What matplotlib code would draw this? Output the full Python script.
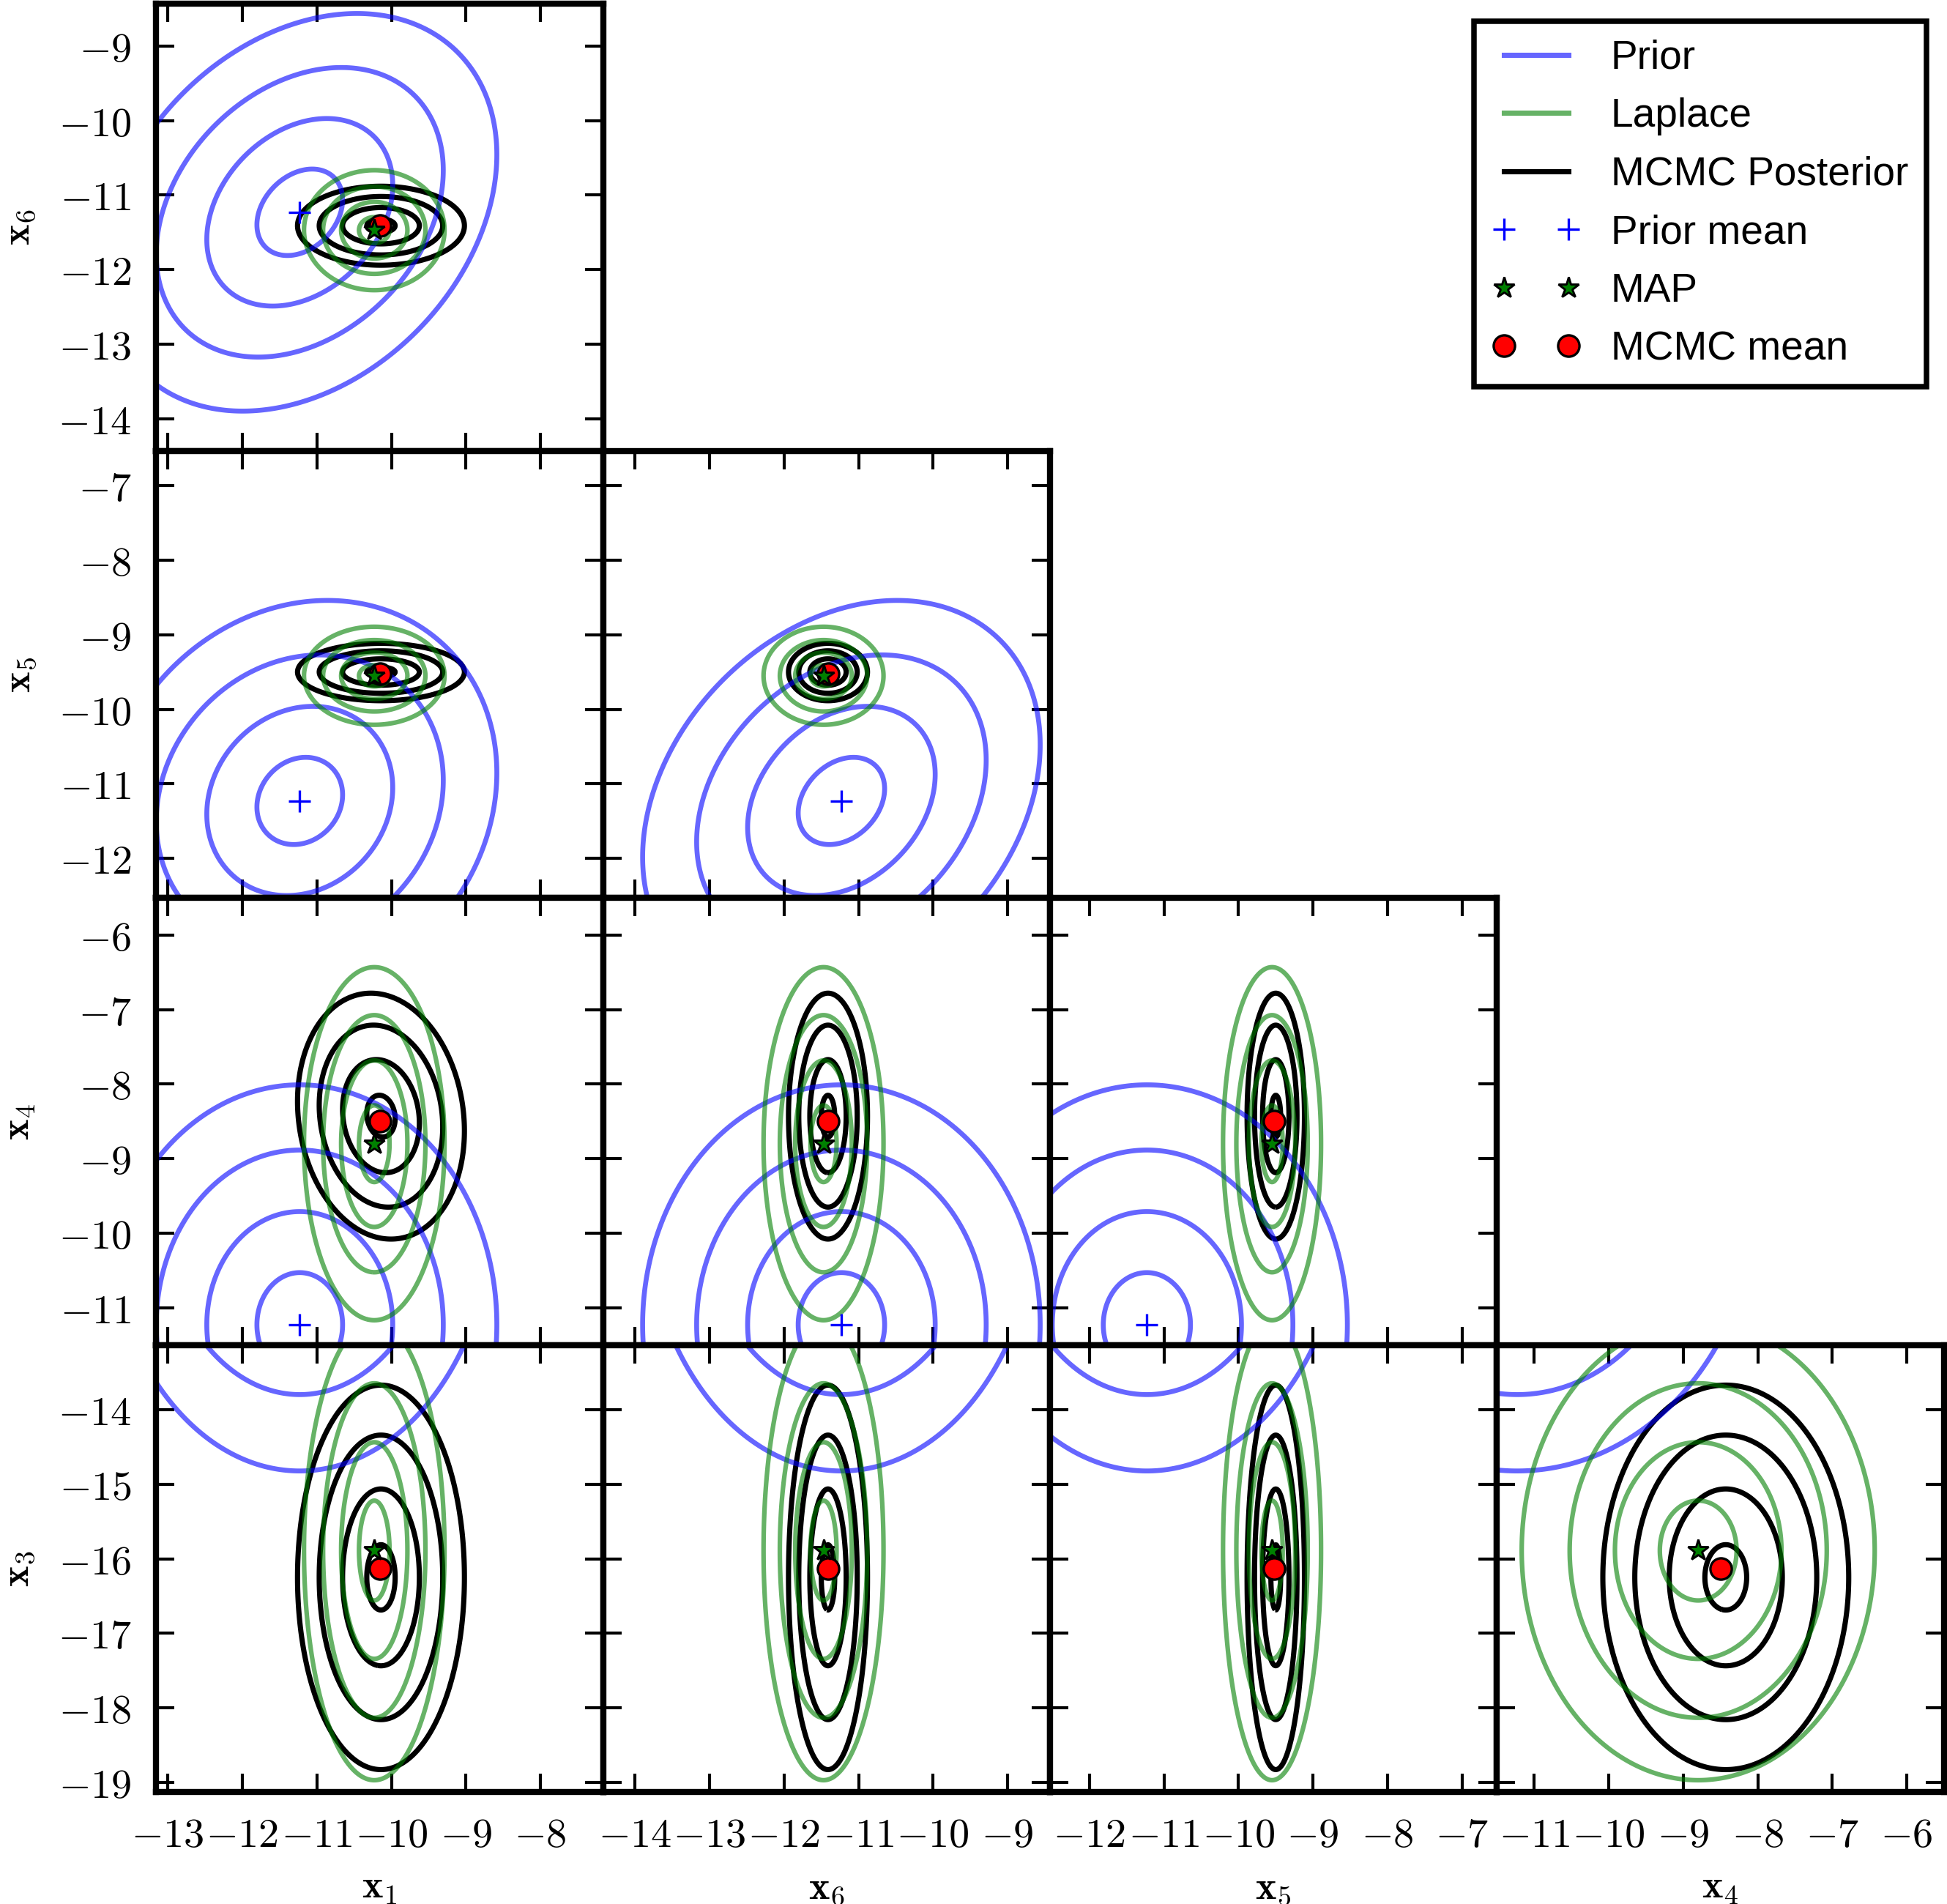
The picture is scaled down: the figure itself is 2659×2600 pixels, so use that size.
import numpy as np
import matplotlib
matplotlib.use('Agg')
import matplotlib.pyplot as plt
from matplotlib.lines import Line2D
from matplotlib.ticker import MultipleLocator, FuncFormatter

plt.rcParams['mathtext.fontset'] = 'cm'

# variable order used everywhere below: x1, x6, x5, x4, x3
var_labels = [r'$\mathbf{x}_1$', r'$\mathbf{x}_6$', r'$\mathbf{x}_5$',
              r'$\mathbf{x}_4$', r'$\mathbf{x}_3$']
axis_lo = [-13.16, -14.43, -12.53, -11.50, -19.13]
axis_hi = [-7.16, -8.43, -6.53, -5.50, -13.13]

# prior (blue)
prior_mean = [-11.23, -11.23, -11.23, -11.23, -11.05]
prior_std = [0.575, 0.58, 0.585, 0.70, 0.82]
prior_corr = {(0, 1): 0.29, (0, 2): 0.14, (1, 2): 0.28}

# laplace approximation (green), centred on the MAP
map_point = [-10.23, -11.47, -9.55, -8.80, -15.89]
laplace_std = [0.205, 0.175, 0.143, 0.515, 0.67]
laplace_corr = {}

# mcmc posterior (black)
mcmc_mean = [-10.15, -11.41, -9.52, -8.50, -16.13]
mcmc_centre = [-10.14, -11.41, -9.50, -8.43, -16.25]
mcmc_spread = [1.12, 0.53, 0.385, 1.65, 2.58]
mcmc_corr = {(0, 3): -0.12}

# contour levels (mahalanobis radii)
gauss_levels = [1.0, 2.17, 3.35, 4.6]
mcmc_levels = [0.17, 0.46, 0.74, 1.0]


def cov_from(std, corr):
    c = np.eye(len(std))
    for (a, b), r in corr.items():
        c[a, b] = c[b, a] = r
    s = np.array(std)
    return c * np.outer(s, s)


def draw_contours(ax, mean, cov, i, j, levels, **kw):
    xs = np.linspace(axis_lo[j], axis_hi[j], 400)
    ys = np.linspace(axis_lo[i], axis_hi[i], 400)
    X, Y = np.meshgrid(xs, ys)
    inv = np.linalg.inv(cov[np.ix_([j, i], [j, i])])
    dx = X - mean[j]
    dy = Y - mean[i]
    d = np.sqrt(inv[0, 0]*dx*dx + 2*inv[0, 1]*dx*dy + inv[1, 1]*dy*dy)
    ax.contour(X, Y, d, levels=levels, **kw)


prior_cov = cov_from(prior_std, prior_corr)
laplace_cov = cov_from(laplace_std, laplace_corr)
mcmc_cov = cov_from(mcmc_spread, mcmc_corr)

fig = plt.figure(figsize=(2659/300, 2600/300), dpi=300)
W = 610.5
fmt = FuncFormatter(lambda v, p: r'$%d$' % round(v))

for r in range(4):
    for c in range(r + 1):
        i = r + 1   # y variable
        j = c       # x variable
        ax = fig.add_axes([(213 + c*W)/2659, (153 + (3 - r)*W)/2600, W/2659, W/2600])

        draw_contours(ax, mcmc_centre, mcmc_cov, i, j, mcmc_levels,
                      colors='k', linewidths=1.7)
        draw_contours(ax, prior_mean, prior_cov, i, j, gauss_levels,
                      colors='b', alpha=0.6, linewidths=1.6)
        draw_contours(ax, map_point, laplace_cov, i, j, gauss_levels,
                      colors='g', alpha=0.6, linewidths=1.5)

        ax.plot(prior_mean[j], prior_mean[i], '+', color='b', ms=7, mew=0.8)
        ax.plot(mcmc_mean[j], mcmc_mean[i], 'o', mfc='r', mec='k', ms=7, mew=0.8)
        ax.plot(map_point[j], map_point[i], '*', mfc='g', mec='k', ms=7, mew=0.7)

        ax.set_xlim(axis_lo[j], axis_hi[j])
        ax.set_ylim(axis_lo[i], axis_hi[i])
        ax.xaxis.set_major_locator(MultipleLocator(1))
        ax.yaxis.set_major_locator(MultipleLocator(1))
        ax.xaxis.set_major_formatter(fmt)
        ax.yaxis.set_major_formatter(fmt)
        ax.tick_params(direction='in', length=6, width=1, top=True, right=True,
                       labelsize=13.5, pad=8,
                       labelleft=(c == 0), labelbottom=(r == 3))
        for sp in ax.spines.values():
            sp.set_linewidth(2.0)
        if c == 0:
            ax.set_ylabel(var_labels[i], fontsize=13, labelpad=7)
        if r == 3:
            ax.set_xlabel(var_labels[j], fontsize=13, labelpad=4)

handles = [Line2D([], [], color='b', alpha=0.6, lw=1.7),
           Line2D([], [], color='g', alpha=0.6, lw=1.7),
           Line2D([], [], color='k', lw=1.7),
           Line2D([], [], ls='none', marker='+', color='b', ms=7, mew=0.8),
           Line2D([], [], ls='none', marker='*', mfc='g', mec='k', ms=7, mew=0.7),
           Line2D([], [], ls='none', marker='o', mfc='r', mec='k', ms=7, mew=0.8)]
labels = ['Prior', 'Laplace', 'MCMC Posterior', 'Prior mean', 'MAP', 'MCMC mean']
leg = fig.legend(handles, labels, loc='upper right',
                 bbox_to_anchor=(2631/2659, 1 - 29/2600), borderaxespad=0,
                 numpoints=2, prop={'family': 'Liberation Sans', 'size': 13.2},
                 fancybox=False, framealpha=1, edgecolor='k',
                 handlelength=2.2, handletextpad=0.75, borderpad=0.45,
                 labelspacing=0.5)
leg.get_frame().set_linewidth(1.8)

fig.savefig('out.png', dpi=300)
